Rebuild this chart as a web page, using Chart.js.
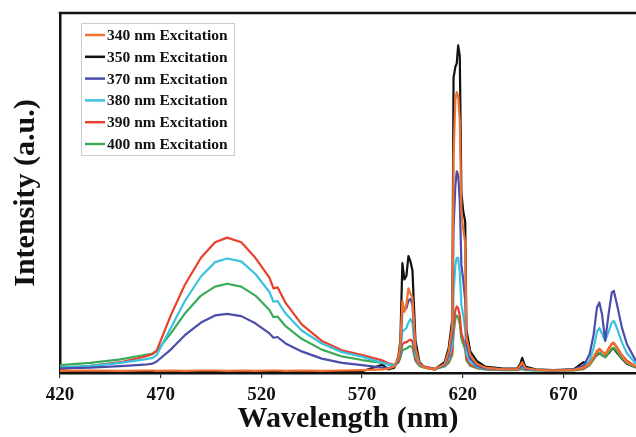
<!DOCTYPE html>
<html>
<head>
<meta charset="utf-8">
<title>Emission spectra</title>
<script src="https://cdn.jsdelivr.net/npm/chart.js@4.4.1/dist/chart.umd.min.js"></script>
<style>
  body { margin: 0; background: #fff; }
  canvas { display: block; }
</style>
</head>
<body>
<canvas id="spectrum" width="636" height="437"></canvas>
<script>
// x ticks shown under the axis
const xTicks = [420, 470, 520, 570, 620, 670];

// wavelength grid (nm), shared by all series
const wavelengths = [
  420, 435, 450, 462, 466, 468, 475, 482, 490, 497,
  503, 510, 517, 524, 526, 528, 532, 540, 550, 560, 570,
  580, 583, 586, 588, 589, 590, 591, 592, 593, 594,
  595, 596.5, 598.5, 601, 606,
  611, 613, 614.8, 615.4, 616.3, 617, 617.7, 618.5, 619.3, 620.2, 621.2, 621.8, 623.7, 627, 631,
  640, 647, 648.5, 649.5, 651, 656, 665, 675, 680, 683,
  685, 686.6, 687.8, 689.1, 690.7, 692.4, 694, 695, 696.5, 699, 701.5, 706
];

const exc340 = [
  0.6, 0.7, 0.6, 0.7, 0.7, 0.6, 0.7, 0.6, 0.7, 0.7,
  0.6, 0.7, 0.6, 0.7, 0.7, 0.7, 0.6, 0.7, 0.6, 0.7, 0.8,
  1.0, 1.2, 1.8, 4, 8, 20, 17, 19, 23.5, 22,
  21, 7, 2.5, 1.5, 1.0,
  2.5, 6, 13, 60, 76, 78, 77, 70, 45, 40, 36, 10, 5, 2.5, 1.5,
  1.0, 1.0, 2.0, 3.0, 1.4, 0.9, 0.7, 0.9, 1.5, 2.6,
  4.6, 6.2, 6.6, 6.0, 5.2, 6.4, 8.0, 8.2, 7.0, 4.8, 3.0, 1.8
];
const exc350 = [
  0.3, 0.4, 0.3, 0.4, 0.3, 0.3, 0.4, 0.3, 0.4, 0.3,
  0.4, 0.3, 0.4, 0.3, 0.4, 0.4, 0.3, 0.4, 0.3, 0.4, 0.5,
  2.3, 1.0, 1.5, 4.5, 9, 30.5, 26, 27, 32.5, 31,
  28.5, 9, 3, 1.5, 1.0,
  3, 7, 15, 82, 85, 86, 91, 88, 50, 45, 42, 12, 6, 3.3, 1.8,
  1.2, 1.2, 2.5, 4.2, 1.8, 1.0, 0.8, 1.0, 3.0, 2.5,
  4.0, 5.0, 5.5, 5.0, 4.4, 5.5, 6.6, 6.8, 5.7, 4.0, 2.6, 1.5
];
const exc370 = [
  1.3, 1.5, 1.9, 2.3, 2.6, 3.2, 6.5, 10.5, 14.0, 16.0,
  16.4, 15.8, 13.8, 11.0, 9.8, 10.0, 8.2, 6.0, 4.0, 2.8, 2.2,
  1.5, 1.4, 1.8, 3.5, 7, 17, 17.5, 18, 20, 20.6,
  19, 6.5, 2.5, 1.6, 1.0,
  2.2, 5, 11, 40, 52, 56, 55, 48, 30, 26, 20, 8, 4, 2.0, 1.3,
  1.0, 1.0, 1.6, 2.2, 1.2, 0.9, 0.7, 1.0, 2.0, 5.3,
  10.8, 18.2, 19.6, 16.4, 8.9, 16.4, 22.4, 22.8, 19.2, 12.6, 8.0, 3.3
];
const exc380 = [
  1.6, 2.0, 2.8, 3.8, 4.2, 5.0, 12.5, 20.0, 26.8, 30.8,
  31.8, 31.0, 27.5, 22.5, 19.8, 20.0, 16.5, 11.8, 8.2, 5.8, 4.5,
  2.8, 2.4, 2.2, 3.5, 6, 11.5, 12, 12.5, 14, 15,
  14, 5, 2.3, 1.6, 1.0,
  2.0, 4, 8, 22, 30, 32, 32, 28, 19, 16, 12, 5.5, 3, 1.7, 1.2,
  0.9, 0.9, 1.3, 1.6, 1.0, 0.8, 0.7, 0.9, 1.6, 3.5,
  7, 11.5, 12.5, 11, 9.0, 11.5, 14, 14.5, 12.5, 8.5, 5.5, 2.5
];
const exc390 = [
  1.1, 2.0, 3.0, 4.5, 5.3, 6.2, 16.0, 24.5, 32.0, 36.3,
  37.6, 36.3, 32.0, 26.5, 23.5, 23.8, 19.5, 13.5, 8.9, 6.3, 5.0,
  3.5, 2.7, 2.3, 3.2, 5, 8, 8.5, 8.5, 9, 9.3,
  8.8, 4, 2.2, 1.8, 1.2,
  2.0, 3.2, 6, 13, 17.5, 18.5, 18, 16, 11, 9.5, 7.5, 4, 2.3, 1.5, 1.1,
  0.9, 0.9, 1.1, 1.3, 0.9, 0.8, 0.7, 0.8, 1.3, 2.5,
  4.2, 6.0, 6.7, 6.0, 5.2, 6.8, 8.2, 8.4, 7.2, 5.0, 3.4, 1.8
];
const exc400 = [
  2.2, 2.8, 3.8, 5.0, 5.4, 6.0, 11.0, 16.5, 21.5, 24.0,
  24.8, 24.0, 21.5, 17.5, 15.5, 15.7, 13.0, 9.5, 6.5, 4.6, 3.6,
  2.8, 2.4, 2.1, 2.8, 4.2, 6.3, 6.6, 6.8, 7.2, 7.5,
  7, 3.3, 1.9, 1.5, 1.1,
  1.8, 2.8, 5, 11, 15, 16, 15.5, 13.5, 9.5, 8, 6.5, 3.5, 2, 1.3, 1.0,
  0.8, 0.8, 1.0, 1.1, 0.8, 0.7, 0.6, 0.7, 1.1, 2.2,
  3.8, 5.2, 5.7, 5.0, 4.4, 5.7, 6.8, 7.0, 6.0, 4.2, 2.8, 1.5
];

const seriesLabels = ['340 nm Excitation', '350 nm Excitation', '370 nm Excitation',
  '380 nm Excitation', '390 nm Excitation', '400 nm Excitation'];
const seriesValues = [exc340, exc350, exc370, exc380, exc390, exc400];
const seriesColors = ['#f0702e', '#111111', '#4a4eaa', '#3ac2de', '#e8402c', '#3cab58'];

const serif = '"Liberation Serif", "Times New Roman", serif';

// legend with a thin grey box, inside the plot
const boxLegend = {
  id: 'boxLegend',
  afterDatasetsDraw(chart) {
    const ctx = chart.ctx;
    ctx.save();
    ctx.strokeStyle = '#cccccc';
    ctx.lineWidth = 1;
    ctx.strokeRect(81.5, 23.5, 153, 132);
    ctx.font = 'bold 15.5px ' + serif;
    ctx.textBaseline = 'middle';
    chart.data.datasets.forEach((ds, i) => {
      const y = 35 + i * 21.8;
      ctx.strokeStyle = ds.borderColor;
      ctx.lineWidth = 2.5;
      ctx.beginPath();
      ctx.moveTo(85, y);
      ctx.lineTo(105, y);
      ctx.stroke();
      ctx.fillStyle = '#111';
      ctx.fillText(ds.label, 107, y + 1);
    });
    ctx.restore();
  }
};

// top edge of the frame
const topFrame = {
  id: 'topFrame',
  afterDraw(chart) {
    const a = chart.chartArea;
    const ctx = chart.ctx;
    ctx.save();
    ctx.strokeStyle = '#111';
    ctx.lineWidth = 2.5;
    ctx.beginPath();
    ctx.moveTo(a.left - 1.25, a.top);
    ctx.lineTo(a.right, a.top);
    ctx.stroke();
    ctx.restore();
  }
};

new Chart(document.getElementById('spectrum'), {
  type: 'line',
  data: {
    datasets: seriesValues.map((vals, i) => ({
      label: seriesLabels[i],
      data: wavelengths.map((w, j) => ({ x: w, y: vals[j] })),
      borderColor: seriesColors[i],
      backgroundColor: seriesColors[i],
      borderWidth: 2.2,
      borderJoinStyle: 'round',
      pointRadius: 0,
      tension: 0,
      fill: false,
      order: i === 1 ? 5 : 0   // black spectrum underneath the others
    }))
  },
  options: {
    responsive: false,
    animation: false,
    devicePixelRatio: 1,
    layout: { padding: { top: 13, right: 0, left: 0, bottom: 0 } },
    plugins: {
      legend: { display: false },
      tooltip: { enabled: false }
    },
    scales: {
      x: {
        type: 'linear',
        min: 420,
        max: 706,
        afterBuildTicks: s => { s.ticks = xTicks.map(v => ({ value: v })); },
        afterFit: s => { s.height = 64; },
        ticks: {
          color: '#111',
          padding: 6,
          maxRotation: 0,
          font: { family: serif, size: 19, weight: 'bold' }
        },
        grid: {
          display: true,
          drawOnChartArea: false,
          drawTicks: true,
          tickLength: 5,
          color: '#333',
          lineWidth: 1.2
        },
        border: { display: true, color: '#111', width: 2.5 },
        title: {
          display: true,
          text: 'Wavelength (nm)',
          color: '#111',
          padding: { top: 0, bottom: 0 },
          font: { family: serif, size: 30, weight: 'bold' }
        }
      },
      y: {
        min: 0,
        max: 100,
        afterFit: s => { s.width = 60; },
        ticks: { display: false },
        grid: { display: false },
        border: { display: true, color: '#111', width: 2.5 },
        title: {
          display: true,
          text: 'Intensity (a.u.)',
          color: '#111',
          padding: { top: 8, bottom: 0 },
          font: { family: serif, size: 30, weight: 'bold' }
        }
      }
    }
  },
  plugins: [boxLegend, topFrame]
});
</script>
</body>
</html>
